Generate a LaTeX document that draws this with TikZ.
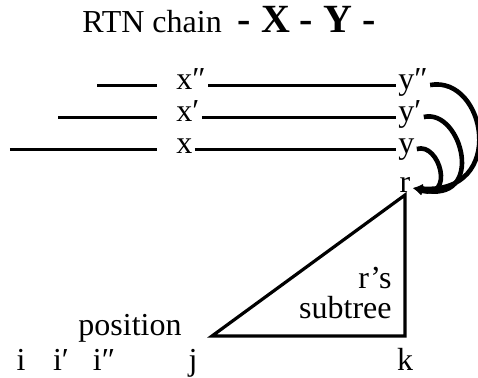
\documentclass[tikz,border=0pt]{standalone}
\usepackage{fontspec}
\setmainfont{Liberation Serif}
\usepackage{tikz}
\usetikzlibrary{arrows.meta,positioning}
\newcommand{\bodyfont}{\fontsize{16}{18}\selectfont}

\begin{document}
\begin{tikzpicture}[x=0.5pt,y=-0.5pt,
  lbl/.style={font=\bodyfont, text height=1ex, text depth=0pt, inner sep=1pt},
  txt/.style={font=\bodyfont, inner sep=1pt},
  chainline/.style={line width=1.5pt},
  loopline/.style={line width=2.3pt, -{Latex[length=5pt,width=5pt]}},
  tri/.style={line width=1.6pt, line join=miter}]
\useasboundingbox (0,0) rectangle (478,377);
% title
\node[anchor=base west, inner sep=0pt] (title) at (82,32)
  {\bodyfont RTN chain\hspace{8pt}{\fontsize{20}{22}\selectfont\bfseries - X - Y -}};
% chain rows
\coordinate (a2) at (97,85);   \coordinate (b2) at (157,85);
\coordinate (a1) at (58,117);  \coordinate (b1) at (157,117);
\coordinate (a0) at (10,149);  \coordinate (b0) at (157,149);
\node[lbl, anchor=west] (x2) at (174,85) {x″};
\node[lbl, anchor=west] (x1) at (174,117) {x′};
\node[lbl, anchor=west] (x0) at (174,149) {x};
\node[lbl, anchor=west] (y2) at (396,85) {y″};
\node[lbl, anchor=west] (y1) at (396,117) {y′};
\node[lbl, anchor=west] (y0) at (396,149) {y};
\node[lbl] (r) at (405,188) {r};
\foreach \n in {0,1,2}{
  \draw[chainline] (a\n) -- (b\n);
  \draw[chainline] (x\n.east) -- (y\n.west);
}
% loops back to r
\draw[loopline] (y2.east) .. controls (486,75) and (508,195) .. (r.east);
\draw[loopline] (y1.east) .. controls (462,108) and (487,205) .. (r.east);
\draw[loopline] (y0.east) .. controls (440,142) and (455,200) .. (r.east);
% subtree of r
\coordinate (tl) at (212,336);
\coordinate (tr) at (r.south |- tl);
\draw[tri] (r.south) -- (tr) -- (tl) -- cycle;
\node[txt, align=right, anchor=base east] (sub) at (394,318) {r's\\[-3pt]subtree};
\node[txt, anchor=base] (pos) at (130,335) {position};
% positions
\node[txt, anchor=base] (i0) at (21,370) {i};
\node[txt, anchor=base] (i1) at (61,370) {i′};
\node[txt, anchor=base] (i2) at (104,370) {i″};
\node[txt, anchor=base] (j) at (193,370) {j};
\node[txt, anchor=base] (k) at (405,370) {k};
\end{tikzpicture}
\end{document}
